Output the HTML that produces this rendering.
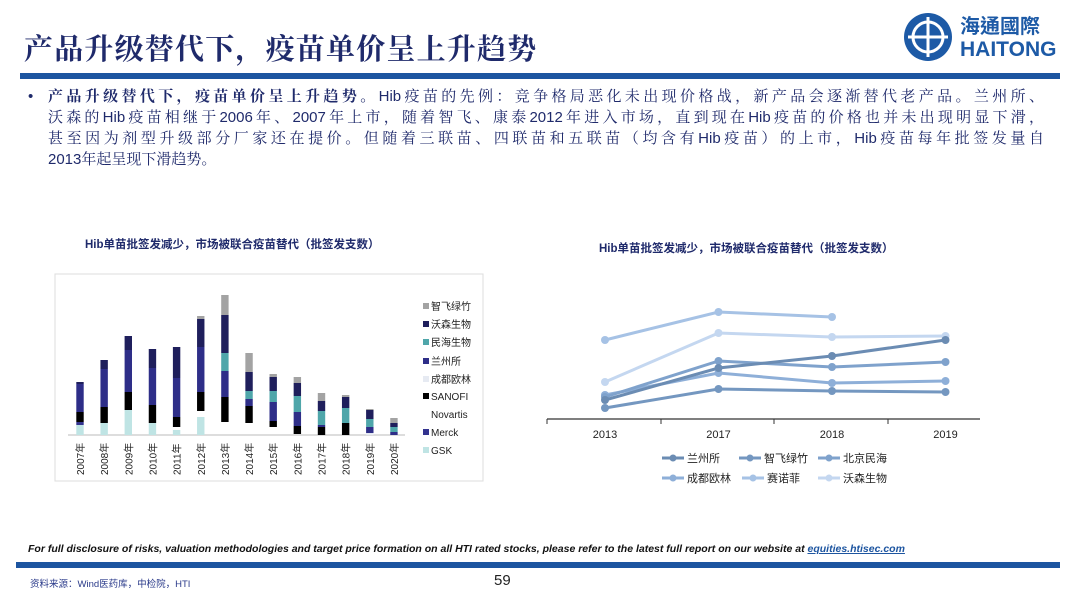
<!DOCTYPE html>
<html><head><meta charset="utf-8">
<style>
body{margin:0;width:1080px;height:607px;background:#fff;position:relative;overflow:hidden;font-family:"Liberation Sans","Noto Sans CJK SC",sans-serif}
.abs{position:absolute}
#title{left:24px;top:27px;font-size:29px;font-weight:bold;color:#1f2a6b;font-family:"Liberation Serif","Noto Serif CJK SC",serif;letter-spacing:1.2px}
#body{left:28px;top:86px;width:1016px;font-size:15px;line-height:21px;color:#1f2a6b;font-family:"Liberation Sans","Noto Serif CJK SC",serif}
.jl{text-align:justify;text-align-last:justify;white-space:nowrap;display:block}
</style></head><body>
<div class="abs" id="title">产品升级替代下，疫苗单价呈上升趋势</div>
<svg class="abs" style="left:900px;top:8px" width="170" height="60">
<circle cx="28" cy="29" r="24" fill="#1d5aa6"/>
<circle cx="28" cy="29" r="15" fill="none" stroke="#fff" stroke-width="3"/>
<path d="M28 9 V49 M8 29 H48" stroke="#fff" stroke-width="3"/>
<text x="60" y="25" font-size="20" font-weight="bold" fill="#1d5aa6" font-family="Liberation Sans,Noto Sans CJK TC,sans-serif">海通國際</text>
<text x="60" y="48" font-size="21" font-weight="bold" fill="#1d5aa6" font-family="Liberation Sans,sans-serif">HAITONG</text>
</svg>
<div class="abs" style="left:20px;top:73px;width:1040px;height:6px;background:#1d55a0"></div>
<div class="abs" id="body">
<div style="padding-left:20px;position:relative"><span style="position:absolute;left:0">•</span>
<span class="jl"><b>产品升级替代下，疫苗单价呈上升趋势。</b>Hib疫苗的先例：竞争格局恶化未出现价格战，新产品会逐渐替代老产品。兰州所、</span>
<span class="jl">沃森的Hib疫苗相继于2006年、2007年上市，随着智飞、康泰2012年进入市场，直到现在Hib疫苗的价格也并未出现明显下滑，</span>
<span class="jl">甚至因为剂型升级部分厂家还在提价。但随着三联苗、四联苗和五联苗（均含有Hib疫苗）的上市，Hib疫苗每年批签发量自</span>
<span style="display:block">2013年起呈现下滑趋势。</span></div></div>

<div class="abs" style="left:85px;top:236px;font-size:11.5px;font-weight:bold;color:#1f2a6b">Hib单苗批签发减少，市场被联合疫苗替代（批签发支数）</div>
<div class="abs" style="left:599px;top:240px;font-size:11.5px;font-weight:bold;color:#1f2a6b">Hib单苗批签发减少，市场被联合疫苗替代（批签发支数）</div>

<svg class="abs" id="bar" style="left:0;top:0" width="540" height="500"></svg>
<svg class="abs" id="line" style="left:540px;top:0" width="540" height="500"></svg>

<div class="abs" style="left:28px;top:543px;font-size:10.5px;font-style:italic;font-weight:bold;color:#111">For full disclosure of risks, valuation methodologies and target price formation on all HTI rated stocks, please refer to the latest full report on our website at <span style="color:#1d55a0;text-decoration:underline">equities.htisec.com</span></div>
<div class="abs" style="left:16px;top:562px;width:1044px;height:6px;background:#1d55a0"></div>
<div class="abs" style="left:30px;top:576px;font-size:9.5px;color:#2a3a8a">资料来源：Wind医药库，中检院，HTI</div>
<div class="abs" style="left:494px;top:572px;font-size:15px;color:#222">59</div>

<script>
const NS="http://www.w3.org/2000/svg";
function mk(p,t,a){const e=document.createElementNS(NS,t);for(const k in a)e.setAttribute(k,a[k]);p.appendChild(e);return e;}
// ---- bar chart data ----
const years=["2007年","2008年","2009年","2010年","2011年","2012年","2013年","2014年","2015年","2016年","2017年","2018年","2019年","2020年"];
const seriesNames=["GSK","Merck","Novartis","SANOFI","成都欧林","兰州所","民海生物","沃森生物","智飞绿竹"];
const gsk=[10,12,25,12,5,18,0,0,0,0,0,0,0,0];
const merck=[3,0,0,0,0,0,0,0,0,0,0,0,0,0];
const novartis=[0,0,0,0,3,6,13,12,8,1,0,0,0,0];
const sanofi=[10,16,18,18,10,19,25,17,6,8,8,12,0,0];
const chengdu=[0,0,0,0,0,0,0,0,0,0,0,0,2,0];
const lanzhou=[28,38,42,37,39,45,26,7,19,14,2,0,6,3];
const minhai=[0,0,0,0,0,0,18,8,11,16,14,15,8,5];
const wosen=[2,9,14,19,31,28,38,19,14,13,10,11,9,4];
const zhifei=[0,0,0,0,0,3,20,19,3,6,8,2,1,5];
const stack=[gsk,merck,novartis,sanofi,chengdu,lanzhou,minhai,wosen,zhifei];
const colors=["#bfe4e4","#33338f","none","#000000","#e6eaf2","#2e2e88","#4fa6aa","#1f1f5c","#a3a3a3"];
const bar=document.getElementById('bar');
mk(bar,'rect',{x:55,y:274,width:428,height:207,fill:"none",stroke:"#ddd"});
const base=435,x0=80,step=24.15;
const bx=i=>x0+i*step, by=v=>v;
mk(bar,'line',{x1:68,y1:base,x2:405,y2:base,stroke:"#bbb"});
years.forEach((yr,i)=>{
  let acc=0;
  stack.forEach((s,k)=>{
    const v=s[i];
    if(v>0&&colors[k]!=="none"){
      const r=mk(bar,'rect',{x:bx(i)-3.7,y:base-by(acc+v),width:7.4,height:by(v),fill:colors[k]});
      
      
    }
    acc+=v;
  });
  const t=mk(bar,'text',{x:0,y:0,transform:`translate(${bx(i)+4},475) rotate(-90)`,"font-size":10,fill:"#222"});
  t.textContent=yr;
  
  
});
const legY=[306,324,342,361,379,396,414,432,450];
const legOrder=[8,7,6,5,4,3,2,1,0];
legOrder.forEach((k,j)=>{
  if(colors[k]!=="none") mk(bar,'rect',{x:423,y:legY[j]-3,width:6,height:6,fill:colors[k]});
  const t=mk(bar,'text',{x:431,y:legY[j]+4,"font-size":10,fill:"#222"});
  t.textContent=seriesNames[k];
  
  
});
// ---- line chart data ----
const lyears=["2013","2017","2018","2019"];
const lnames=["兰州所","智飞绿竹","北京民海","成都欧林","赛诺菲","沃森生物"];
const lLanzhou=[19,51,63,79];
const lZhifei=[11,30,28,27];
const lMinhai=[22,58,52,57];
const lOulin=[24,46,36,38];
const lSanofi=[79,107,102,null];
const lWosen=[37,86,82,83];
const lseries=[lLanzhou,lZhifei,lMinhai,lOulin,lSanofi,lWosen];
const lcolors=["#6b8cb3","#7497c0","#7fa2cc","#8eafd8","#a6c2e5","#c4d7f0"];
const line=document.getElementById('line');
const lx=i=>65+i*113.5, ly=v=>419-v;
mk(line,'line',{x1:7,y1:419,x2:440,y2:419,stroke:"#333","stroke-width":1.2});
[7,121,234,348].forEach(x=>mk(line,'line',{x1:x,y1:419,x2:x,y2:424,stroke:"#333"}));
lyears.forEach((y,i)=>{const t=mk(line,'text',{x:lx(i),y:438,"font-size":11,fill:"#222","text-anchor":"middle"});t.textContent=y;

});
lseries.slice().reverse().forEach((s,rk)=>{
  const k=lseries.length-1-rk;
  let d="";
  s.forEach((v,i)=>{if(v!==null)d+=(d?"L":"M")+lx(i)+" "+ly(v);});
  const p=mk(line,'path',{d:d,fill:"none",stroke:lcolors[k],"stroke-width":3});
  
  
  s.forEach((v,i)=>{if(v!==null){const c=mk(line,'circle',{cx:lx(i),cy:ly(v),r:4,fill:lcolors[k]});
  
  }});
});
const legPos=[[122,458],[199,458],[278,458],[122,478],[202,478],[278,478]];
lnames.forEach((n,k)=>{
  const [x,y]=legPos[k];
  mk(line,'line',{x1:x,y1:y,x2:x+22,y2:y,stroke:lcolors[k],"stroke-width":3});
  mk(line,'circle',{cx:x+11,cy:y,r:3.5,fill:lcolors[k]});
  const t=mk(line,'text',{x:x+25,y:y+4,"font-size":11,fill:"#222"});
  t.textContent=n;
  
  
});
</script>
</body></html>
